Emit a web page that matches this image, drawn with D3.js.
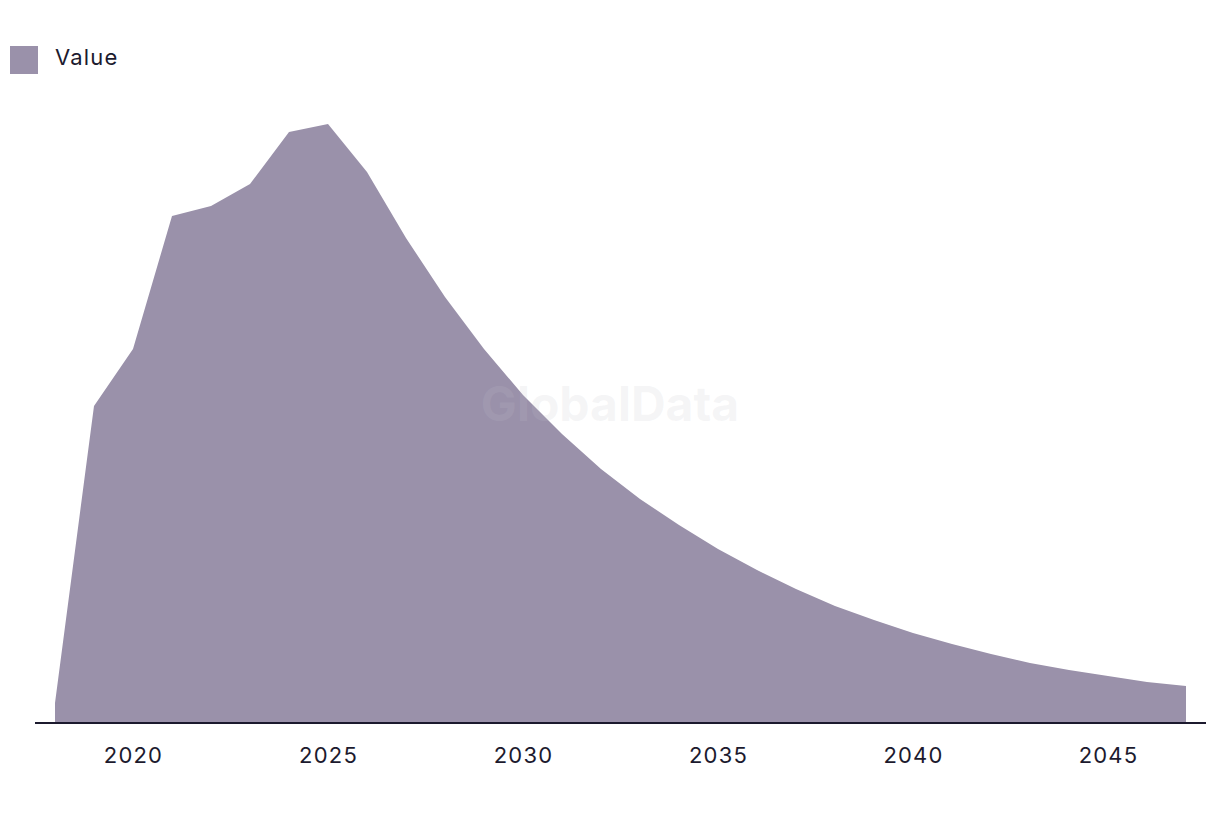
<!DOCTYPE html>
<html><head><meta charset="utf-8">
<script src="https://cdn.jsdelivr.net/npm/d3@7"></script>
<style>body{margin:0;background:#fff;} svg{display:block;font-family:Inter, "Liberation Sans", sans-serif;}</style>
</head><body>
<svg id="c" width="1220" height="814"></svg>
<script>
const years = [2018,2019,2020,2021,2022,2023,2024,2025,2026,2027,2028,2029,2030,2031,2032,2033,2034,2035,2036,2037,2038,2039,2040,2041,2042,2043,2044,2045,2046,2047];
const values = [20,317,374,507,517,539,591,599,551,485,426,374,328,289,254,224,198,174,153,134,117,103,90,79,69,60,53,47,41,37];
const tickYears = [2020,2025,2030,2035,2040,2045];
const seriesName = "Value";

const svg = d3.select("#c");
const x = d3.scaleLinear().domain([2018,2047]).range([55,1186]);
const y = d3.scaleLinear().domain([0,600]).range([723,123]);
const data = years.map((d,i)=>({year:d,value:values[i]}));

svg.append("path").datum(data)
  .attr("fill","#9a91aa")
  .attr("d", d3.area().x(d=>x(d.year)).y0(y(0)).y1(d=>y(d.value)));

svg.append("text").attr("x",610).attr("y",408).attr("text-anchor","middle").attr("dominant-baseline","middle")
  .attr("font-size",48).attr("font-weight",700).attr("fill","rgb(196,196,202)").attr("fill-opacity",0.17).text("GlobalData");

const axis = d3.axisBottom(x).tickValues(tickYears).tickFormat(d3.format("d")).tickSize(0).tickPadding(24);
const g = svg.append("g").attr("transform",`translate(0,${y(0)})`).call(axis);
g.select(".domain").remove();
g.append("line").attr("x1",35).attr("x2",1206).attr("y1",0).attr("y2",0).attr("stroke","#1c1a2e").attr("stroke-width",2);
g.selectAll(".tick text").attr("font-size",22).attr("letter-spacing","1.2px").attr("fill","#1c1a2e").attr("font-family","Inter, 'Liberation Sans', sans-serif");

const lg = svg.append("g");
lg.append("rect").attr("x",10).attr("y",46).attr("width",28).attr("height",28).attr("fill","#9a91aa");
lg.append("text").attr("x",55).attr("y",59).attr("dominant-baseline","middle").attr("font-size",22).attr("letter-spacing","1.2px").attr("fill","#1c1a2e").text(seriesName);
</script>
</body></html>
